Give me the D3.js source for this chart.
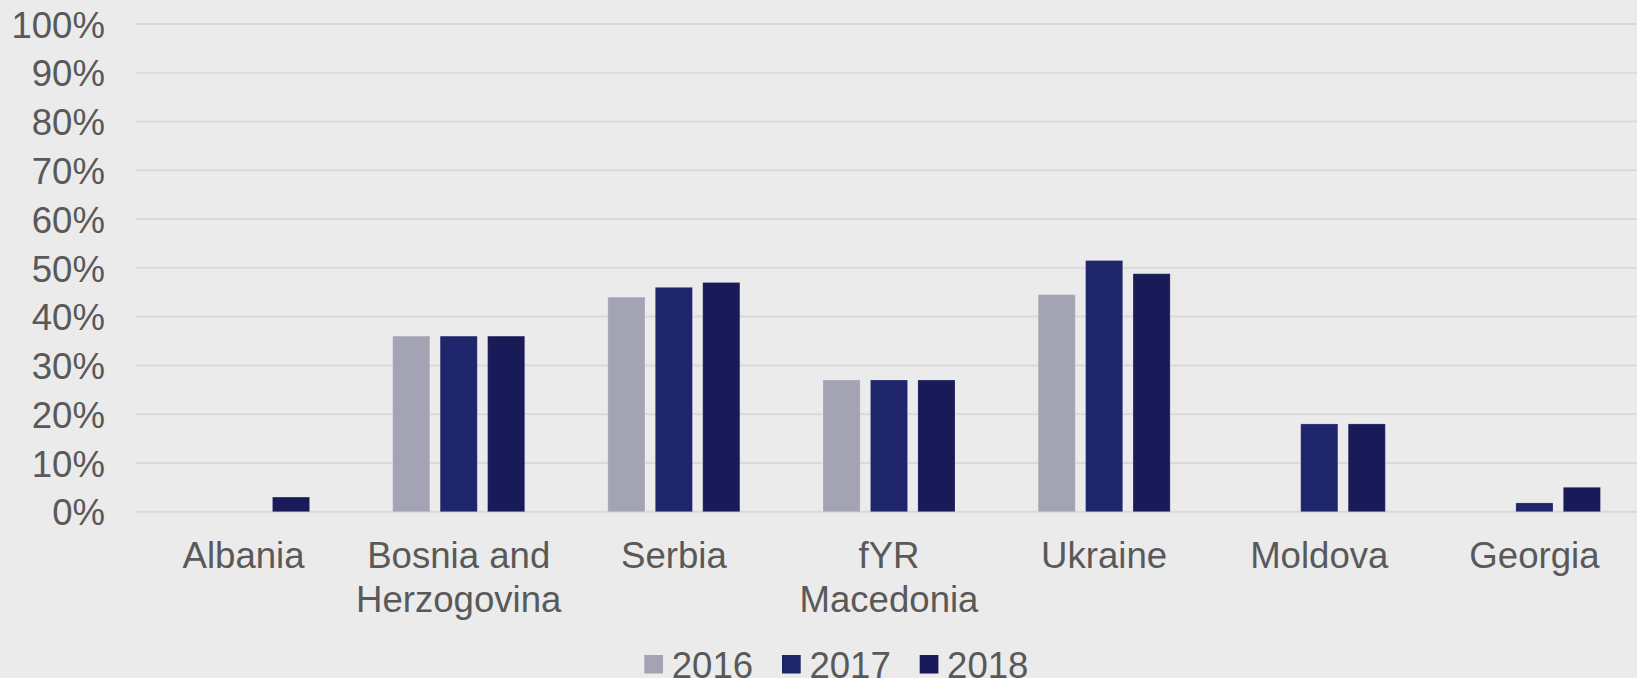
<!DOCTYPE html>
<html lang="en">
    <head>
        <meta charset="UTF-8" />
        <title>Share by country, 2016-2018</title>
        <script src="https://d3js.org/d3.v7.min.js"></script>
        <style>
            html, body {
                margin: 0;
                padding: 0;
                background: #ebebeb;
                overflow: hidden;
            }
            text {
                font-family: "Liberation Sans", Arial, sans-serif;
                fill: #595959;
                font-size: 36.6px;
            }
            .grid line {
                stroke: #d9d9d9;
                stroke-width: 2px;
            }
        </style>
    </head>
    <body>
        <svg width="1637" height="678"></svg>

        <script>
            // size of the picture
            const width = 1637;
            const height = 678;

            // categories (line breaks as in the original labels)
            const countries = ["Albania", "Bosnia and Herzogovina", "Serbia", "fYR Macedonia", "Ukraine", "Moldova", "Georgia"];
            const labelLines = [["Albania"], ["Bosnia and", "Herzogovina"], ["Serbia"], ["fYR", "Macedonia"], ["Ukraine"], ["Moldova"], ["Georgia"]];
            const years = ["2016", "2017", "2018"];

            // values in %, null = no bar
            const values2016 = [null, 36, 44, 27, 44.5, null, null];
            const values2017 = [null, 36, 46, 27, 51.5, 18, 1.8];
            const values2018 = [3, 36, 47, 27, 48.8, 18, 5];
            const yTicks = [0, 10, 20, 30, 40, 50, 60, 70, 80, 90, 100];

            const colors = ["#a3a3b4", "#1f256b", "#181b57"];
            const series = [values2016, values2017, values2018];

            // plot area runs a bit past the right edge, as in the original
            const margin = { left: 136, right: -5, top: 24, bottom: 166 };

            const svg = d3.select("svg");

            // scales
            const x0 = d3.scaleBand()
                .domain(countries)
                .range([margin.left, width - margin.right])
                .padding(0);

            const x1 = d3.scaleBand()
                .domain(years)
                .range([0, x0.bandwidth()])
                .paddingInner(0.218)
                .paddingOuter(0.876);

            const y = d3.scaleLinear()
                .domain([0, 100])
                .range([511.7, margin.top]);

            // horizontal grid lines
            svg.append("g")
                .attr("class", "grid")
                .selectAll("line")
                .data(yTicks)
                .join("line")
                .attr("x1", margin.left)
                .attr("x2", width)
                .attr("y1", (d) => y(d))
                .attr("y2", (d) => y(d));

            // y axis labels
            const yAxis = svg.append("g")
                .attr("transform", `translate(${margin.left - 31},0)`)
                .call(d3.axisLeft(y).tickValues(yTicks).tickFormat((d) => d + "%").tickSize(0).tickPadding(0));
            yAxis.select(".domain").remove();
            yAxis.selectAll("text")
                .attr("dy", "0.36em")
                .style("font-size", "36.6px")
                .style("font-family", "'Liberation Sans', Arial, sans-serif")
                .attr("fill", "#595959");

            // bars
            const groups = svg.append("g")
                .selectAll("g")
                .data(countries)
                .join("g")
                .attr("transform", (d) => `translate(${x0(d)},0)`);

            groups.selectAll("rect")
                .data((d, i) => years.map((yr, k) => ({ year: yr, k: k, value: series[k][i] })).filter((e) => e.value != null))
                .join("rect")
                .attr("x", (d) => x1(d.year))
                .attr("width", x1.bandwidth())
                .attr("y", (d) => y(d.value))
                .attr("height", (d) => y(0) - y(d.value))
                .attr("fill", (d) => colors[d.k])
                .attr("stroke", "rgba(255,255,255,0.18)")
                .attr("stroke-width", 1);

            // category labels
            const labels = svg.append("g")
                .selectAll("text")
                .data(countries)
                .join("text")
                .attr("x", (d) => x0(d) + x0.bandwidth() / 2)
                .attr("y", 568.3)
                .attr("text-anchor", "middle");

            labels.selectAll("tspan")
                .data((d, i) => labelLines[i])
                .join("tspan")
                .attr("x", function () { return this.parentNode.getAttribute("x"); })
                .attr("dy", (d, i) => (i === 0 ? 0 : 44))
                .text((d) => d);

            // legend (cut by the bottom edge in the original too)
            const legend = svg.append("g")
                .attr("transform", "translate(644.3,0)");

            const item = legend.selectAll("g")
                .data(years)
                .join("g")
                .attr("transform", (d, i) => `translate(${i * 137.7},0)`);

            item.append("rect")
                .attr("x", 0)
                .attr("y", 655)
                .attr("width", 18.7)
                .attr("height", 18.5)
                .attr("fill", (d, i) => colors[i]);

            item.append("text")
                .attr("x", 27.4)
                .attr("y", 678)
                .text((d) => d);
        </script>
    </body>
</html>
